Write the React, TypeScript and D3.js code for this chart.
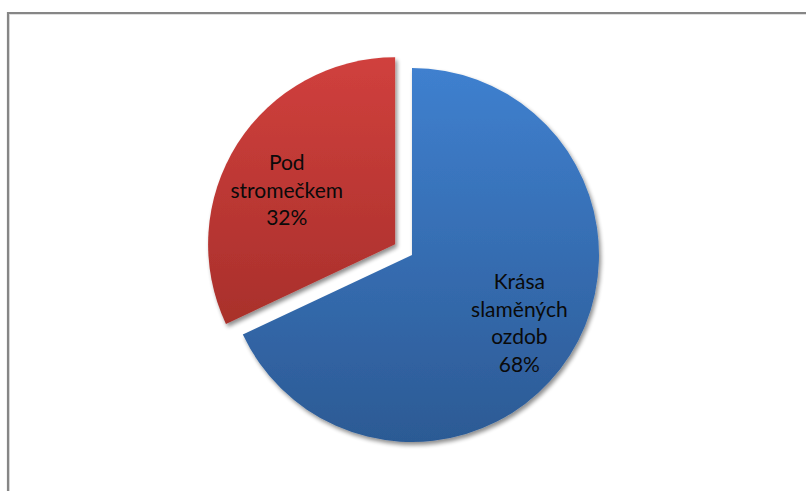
import React from "react";
import * as d3 from "d3";

const categories = ["Krása slaměných ozdob", "Pod stromečkem"];
const labelLines = [["Krása", "slaměných", "ozdob"], ["Pod", "stromečkem"]];
const values = [68, 32];
const colorsTop = ["#3f80cf", "#d0403d"];
const colorsBottom = ["#2c5a94", "#992924"];
const explode = [0, 20];
const labelNudge = [
  [0, 0],
  [-1, 14],
];

const W = 806;
const H = 491;
const cx = 412;
const cy = 255;
const R = 187;

export default function App() {
  const pie = d3.pie<number>().sort(null).value((d) => d)(values);
  const arc = d3.arc<d3.PieArcDatum<number>>().innerRadius(0).outerRadius(R);
  const labelArc = d3
    .arc<d3.PieArcDatum<number>>()
    .innerRadius(R * 0.68)
    .outerRadius(R * 0.68);
  const total = d3.sum(values);
  const lh = 27.5;

  return (
    <svg
      width={W}
      height={H}
      style={{ position: "absolute", left: 0, top: 0 }}
      fontFamily="Lato, 'Open Sans', sans-serif"
    >
      <defs>
        {pie.map((d, i) => (
          <linearGradient
            key={i}
            id={`g${i}`}
            gradientUnits="userSpaceOnUse"
            x1={0}
            x2={0}
            y1={-R}
            y2={R}
          >
            <stop offset="0" stopColor={colorsTop[i]} />
            <stop offset="1" stopColor={colorsBottom[i]} />
          </linearGradient>
        ))}
        <filter id="sh" x="-20%" y="-20%" width="140%" height="140%">
          <feGaussianBlur in="SourceAlpha" stdDeviation="2.2" />
          <feOffset dx="2" dy="3" result="b" />
          <feComponentTransfer>
            <feFuncA type="linear" slope="0.45" />
          </feComponentTransfer>
          <feMerge>
            <feMergeNode />
            <feMergeNode in="SourceGraphic" />
          </feMerge>
        </filter>
      </defs>
      <rect x={0} y={0} width={W} height={H} fill="#fff" />
      <line x1={9} y1={14.5} x2={W} y2={14.5} stroke="#e0e0e0" strokeWidth={1} />
      <line x1={9.5} y1={14} x2={9.5} y2={H} stroke="#e0e0e0" strokeWidth={1} />
      <path
        d={`M8,${H} L8,13 L${W},13`}
        fill="none"
        stroke="#868686"
        strokeWidth={2.2}
      />
      {pie.map((d, i) => {
        const mid = (d.startAngle + d.endAngle) / 2;
        const ox = Math.sin(mid) * explode[i];
        const oy = -Math.cos(mid) * explode[i];
        const [lx0, ly] = labelArc.centroid(d);
        const lx = lx0 + labelNudge[i][0];
        const lines = [
          ...labelLines[i],
          `${Math.round((values[i] / total) * 100)}%`,
        ];
        const ly0 = ly + labelNudge[i][1] - ((lines.length - 1) * lh) / 2;
        return (
          <g key={categories[i]} transform={`translate(${cx + ox},${cy + oy})`}>
            <path d={arc(d) || ""} fill={`url(#g${i})`} filter="url(#sh)" />
            <text textAnchor="middle" fontSize={21} fill="#0a0a0a">
              {lines.map((t, j) => (
                <tspan key={j} x={lx} y={ly0 + j * lh} dy="0.35em">
                  {t}
                </tspan>
              ))}
            </text>
          </g>
        );
      })}
    </svg>
  );
}
